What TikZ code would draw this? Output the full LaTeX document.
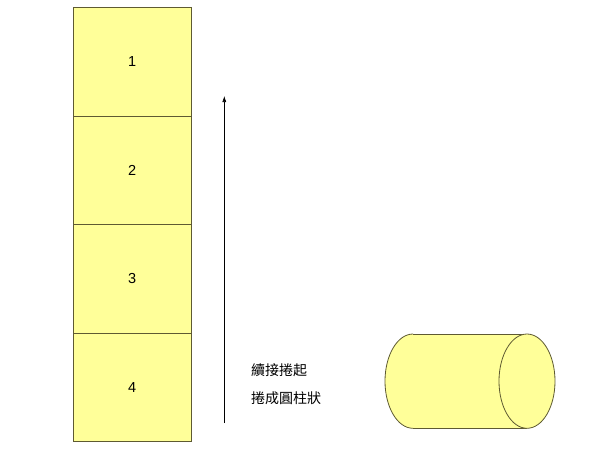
\documentclass[tikz,border=0pt]{standalone}
\usepackage{fontspec}
\setmainfont{Liberation Sans}
\newfontfamily\cjk{Noto Sans CJK TC}
\usetikzlibrary{arrows.meta}
\definecolor{paper}{HTML}{FFFF99}
\definecolor{edge}{HTML}{5E5A32}
\tikzset{
  cell/.style={draw=edge, fill=paper, line width=0.8pt, minimum width=118.5pt, minimum height=108.6pt, inner sep=0pt, font=\fontsize{14.5}{16}\selectfont},
  note/.style={anchor=west, inner sep=0pt, font=\cjk\fontsize{14}{16}\selectfont},
  rollarrow/.style={draw=black, line width=0.6pt, -{Latex[length=6pt,width=4pt]}},
  cyl/.style={draw=edge, line width=0.8pt}
}
\begin{document}
\begin{tikzpicture}[x=1pt,y=-1pt]
\useasboundingbox (0,0) rectangle (600,450);
\node[cell] (b1) at (132.25,61.6) {1};
\node[cell] (b2) at (132.25,170.2) {2};
\node[cell] (b3) at (132.25,278.8) {3};
\node[cell] (b4) at (132.25,387.4) {4};
\coordinate (a0) at (224.3,423);
\coordinate (a1) at (224.3,96);
\draw[rollarrow] (a0) -- (a1);
\node[note] (t1) at (251,370) {續接捲起};
\node[note] (t2) at (251,398) {捲成圓柱狀};
% cylinder
\fill[paper] (413,334) rectangle (527,428.3);
\fill[paper] (413,381.15) ellipse[x radius=28pt, y radius=47.15pt];
\begin{scope}
  \clip (380,325) rectangle (413,435);
  \draw[cyl] (413,381.15) ellipse[x radius=28pt, y radius=47.15pt];
\end{scope}
\draw[cyl] (413,334) -- (527,334);
\draw[cyl] (413,428.3) -- (527,428.3);
\draw[cyl, fill=paper] (527,381.15) ellipse[x radius=28pt, y radius=47.15pt];
\end{tikzpicture}
\end{document}
